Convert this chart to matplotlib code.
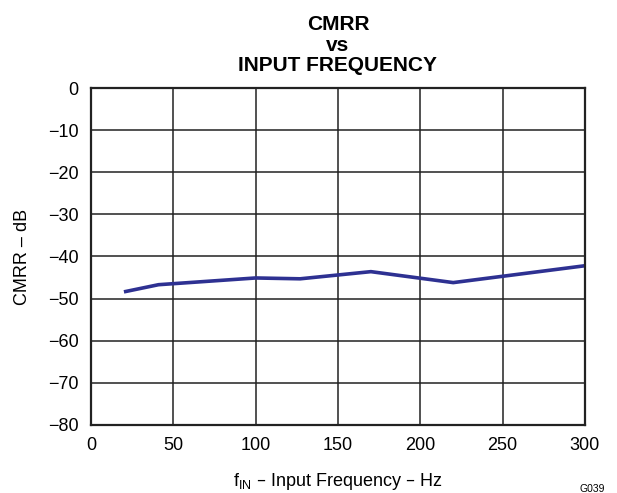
import matplotlib.pyplot as plt
from matplotlib import rcParams as rc

# values
freq = [20, 41, 100, 127, 170, 220, 300]
cmrr = [-48.4, -46.7, -45.1, -45.3, -43.6, -46.2, -42.2]

xticks = [0, 50, 100, 150, 200, 250, 300]
yticks = [0, -10, -20, -30, -40, -50, -60, -70, -80]

rc['font.family'] = 'sans-serif'
rc['font.sans-serif'] = ['Liberation Sans']
rc['font.size'] = 13

fig = plt.figure(figsize=(6.17, 4.93), dpi=100)
ax = fig.add_axes([0.1475, 0.138, 0.8005, 0.6835])

ax.plot(freq, cmrr, color='#2e3192', lw=2.6, solid_capstyle='butt')

ax.set_xlim(0, 300)
ax.set_ylim(-80, 0)
ax.set_xticks(xticks)
ax.set_yticks(yticks)
ax.set_yticklabels([str(v).replace('-', '\u2212') for v in yticks])
ax.tick_params(length=0, pad=9)
ax.grid(True, color='#222222', lw=1.1)
for s in ax.spines.values():
    s.set_linewidth(1.6)
    s.set_color('#222222')

ax.set_xlabel(r'f$_{\mathregular{IN}}$ – Input Frequency – Hz', labelpad=12)
ax.set_ylabel('CMRR – dB', labelpad=12)
ax.set_title('CMRR\nvs\nINPUT FREQUENCY', fontweight='bold', fontsize=15,
             linespacing=1.12, pad=12)
fig.text(0.96, 0.002, 'G039', fontsize=7.5, ha='center')

plt.savefig('out.png', dpi=100)
